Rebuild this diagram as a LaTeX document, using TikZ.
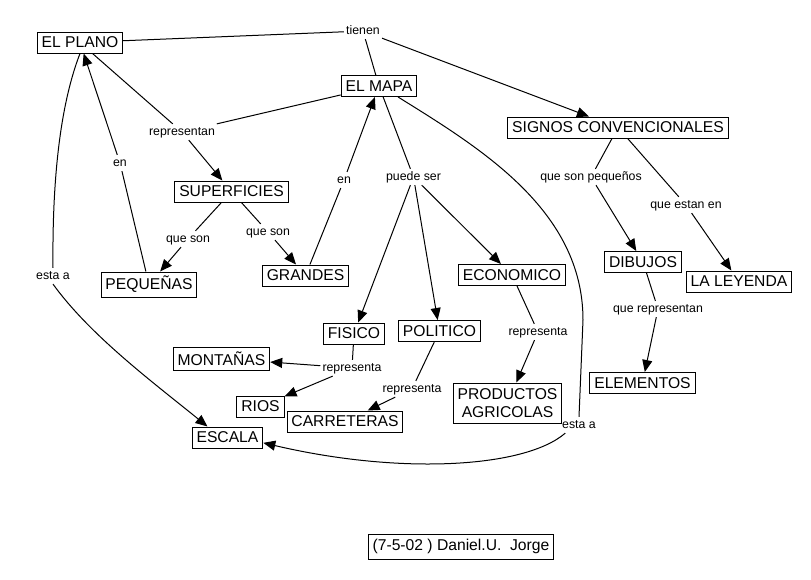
\documentclass[tikz,border=0pt]{standalone}
\usepackage{fontspec}
\setmainfont{Liberation Sans}
\usetikzlibrary{arrows.meta}
\begin{document}
\begin{tikzpicture}[x=0.75pt,y=-0.75pt,
  concept/.style={draw, line width=0.75pt, inner xsep=3.3pt, inner ysep=0pt,
    minimum height=15.75pt, font=\fontsize{11.75}{13.5}\selectfont},
  link/.style={inner sep=1.5pt, text height=6.8pt, text depth=2pt,
    font=\fontsize{9.25}{11}\selectfont},
  conn/.style={line width=0.75pt},
  arr/.style={conn, -{Triangle[length=9pt,width=7.5pt]}},
]
\useasboundingbox (0,0) rectangle (811,579);

% concepts
\node[concept] (plano) at (80,42.5) {EL PLANO};
\node[concept] (mapa) at (379,86) {EL MAPA};
\node[concept] (signos) at (618,127.5) {SIGNOS CONVENCIONALES};
\node[concept] (sup) at (231.5,191.5) {SUPERFICIES};
\node[concept, minimum height=18.75pt] (peq) at (149,284.5) {PEQUEÑAS};
\node[concept] (grandes) at (305.5,275.5) {GRANDES};
\node[concept] (econ) at (512,275) {ECONOMICO};
\node[concept] (dibujos) at (643,262) {DIBUJOS};
\node[concept] (leyenda) at (739,281.5) {LA LEYENDA};
\node[concept] (elem) at (642.5,383) {ELEMENTOS};
\node[concept] (fisico) at (354,333.5) {FISICO};
\node[concept] (politico) at (439.5,331) {POLITICO};
\node[concept, minimum height=17.25pt] (mont) at (221.5,358.5) {MONTAÑAS};
\node[concept] (rios) at (260.5,406.5) {RIOS};
\node[concept] (carr) at (345,421.5) {CARRETERAS};
\node[concept, align=center, minimum height=30pt] (prod) at (507.5,403) {PRODUCTOS\\AGRICOLAS};
\node[concept] (escala) at (227.5,437.5) {ESCALA};
\node[concept, minimum height=18.75pt] (autor) at (461,546.5) {(7-5-02 ) Daniel.U.\ \ Jorge};

% linking phrases
\node[link] (tienen) at (363,31) {tienen};
\node[link] (repn) at (182,132) {representan};
\node[link] (en1) at (120,163) {en};
\node[link] (en2) at (344,180) {en};
\node[link] (puede) at (413.5,177) {puede ser};
\node[link] (qsL) at (188,239) {que son};
\node[link] (qsR) at (268,232) {que son};
\node[link] (estaL) at (53,276) {esta a};
\node[link] (qsp) at (591,177) {que son pequeños};
\node[link] (qee) at (686,205) {que estan en};
\node[link] (qrep) at (658,309) {que representan};
\node[link] (repF) at (352,368) {representa};
\node[link] (repP) at (412,389) {representa};
\node[link] (repE) at (538,332) {representa};
\node[link] (estaR) at (579,425) {esta a};

% connectors
\draw[conn] (plano) -- (tienen);
\draw[conn] (tienen) -- (mapa);
\draw[arr] (tienen) -- (signos);
\draw[conn] (plano) -- (repn);
\draw[conn] (mapa) -- (repn);
\draw[arr] (repn) -- (sup);
\draw[conn] (peq) -- (en1);
\draw[arr] (en1) -- (plano);
\draw[conn] (grandes) -- (en2);
\draw[arr] (en2) -- (mapa);
\draw[conn] (sup) -- (qsL);
\draw[arr] (qsL) -- (peq);
\draw[conn] (sup) -- (qsR);
\draw[arr] (qsR) -- (grandes);
\draw[conn] (plano.south) .. controls (62,100) and (52,170) .. (estaL.north);
\draw[arr] (estaL.south) .. controls (90,335) and (150,380) .. ([xshift=-15pt]escala.north);
\draw[conn] (mapa) -- (puede);
\draw[arr] (puede) -- (fisico);
\draw[arr] (puede) -- (politico);
\draw[arr] (puede) -- (econ);
\draw[conn] (mapa.-30) .. controls (480,148) and (583,210) .. (583,320) -- (estaR.north);
\draw[arr] ([xshift=4pt]estaR.south west) .. controls (525,468) and (400,475) .. ([yshift=-4pt]escala.east);
\draw[conn] (signos) -- (qsp);
\draw[arr] (qsp) -- (dibujos);
\draw[conn] (signos) -- (qee);
\draw[arr] (qee) -- (leyenda);
\draw[conn] (dibujos) -- (qrep);
\draw[arr] (qrep) -- (elem);
\draw[conn] (fisico) -- (repF);
\draw[arr] (repF) -- (mont);
\draw[arr] (repF) -- (rios);
\draw[conn] (politico) -- (repP);
\draw[arr] (repP) -- (carr);
\draw[conn] (econ) -- (repE);
\draw[arr] (repE) -- (prod);
\end{tikzpicture}
\end{document}
